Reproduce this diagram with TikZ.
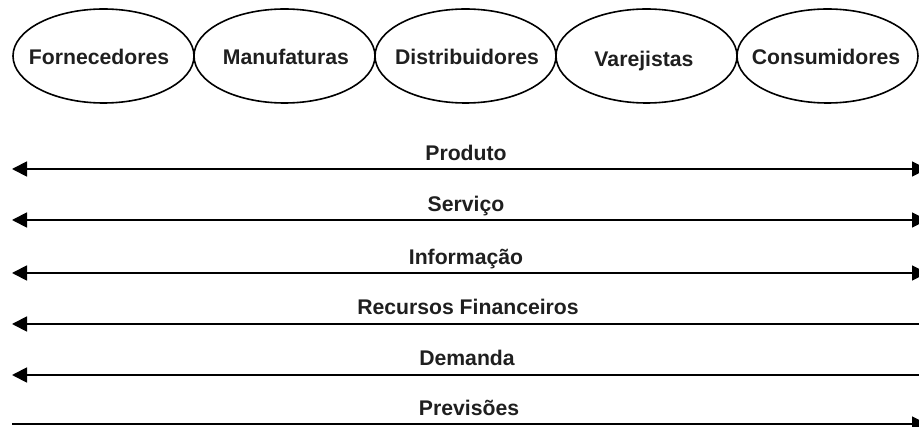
\documentclass[tikz,border=0pt]{standalone}
\usepackage{fontspec}
\setmainfont{Liberation Sans}
\usetikzlibrary{shapes.geometric,arrows.meta}
\tikzset{
  actortext/.style={inner sep=0pt, font=\bfseries\fontsize{21.2}{24}\selectfont, text=black!88},
  actorrim/.style={draw=black, line width=1.6pt},
  flow/.style={line width=1.8pt, draw=black},
  tip/.style={-{Triangle[length=15pt,width=15pt]}},
  flowlabel/.style={anchor=base, font=\bfseries\fontsize{21.2}{24}\selectfont, text=black!88, inner sep=0pt}
}
\begin{document}
\begin{tikzpicture}[x=1pt,y=-1pt]
\clip (0,0) rectangle (919,427);
\fill[white] (0,0) rectangle (919,427);
% actors: rims
\foreach \cx in {103.5,284.5,465.5,646.5,827.5}{
  \draw[actorrim] (\cx,56) ellipse [x radius=90.5, y radius=47];
}
% actors: texts
\node[actortext] (forn) at (99,57) {Fornecedores};
\node[actortext] (manu) at (286,57) {Manufaturas};
\node[actortext] (dist) at (467,57) {Distribuidores};
\node[actortext] (vare) at (644,61) {Varejistas};
\node[actortext] (cons) at (826,57) {Consumidores};
% arrow ends
\foreach \n/\y in {a/169,b/220,c/273,d/324,e/375,f/424}{
  \coordinate (\n L) at (12,\y);
  \coordinate (\n R) at (927,\y);
}
\draw[flow,{Triangle[length=15pt,width=15pt]}-{Triangle[length=15pt,width=15pt]}] (aL) -- (aR);
\draw[flow,{Triangle[length=15pt,width=15pt]}-{Triangle[length=15pt,width=15pt]}] (bL) -- (bR);
\draw[flow,{Triangle[length=15pt,width=15pt]}-{Triangle[length=15pt,width=15pt]}] (cL) -- (cR);
\draw[flow,{Triangle[length=15pt,width=15pt]}-] (dL) -- (dR);
\draw[flow,{Triangle[length=15pt,width=15pt]}-] (eL) -- (eR);
\draw[flow,tip] (fL) -- (fR);
% labels
\node[flowlabel] (lp) at (466,161) {Produto};
\node[flowlabel] (ls) at (466,212) {Serviço};
\node[flowlabel] (li) at (466,265) {Informação};
\node[flowlabel] (lr) at (468,315) {Recursos Financeiros};
\node[flowlabel] (ld) at (467,366) {Demanda};
\node[flowlabel] (lv) at (469,416) {Previsões};
\end{tikzpicture}
\end{document}
